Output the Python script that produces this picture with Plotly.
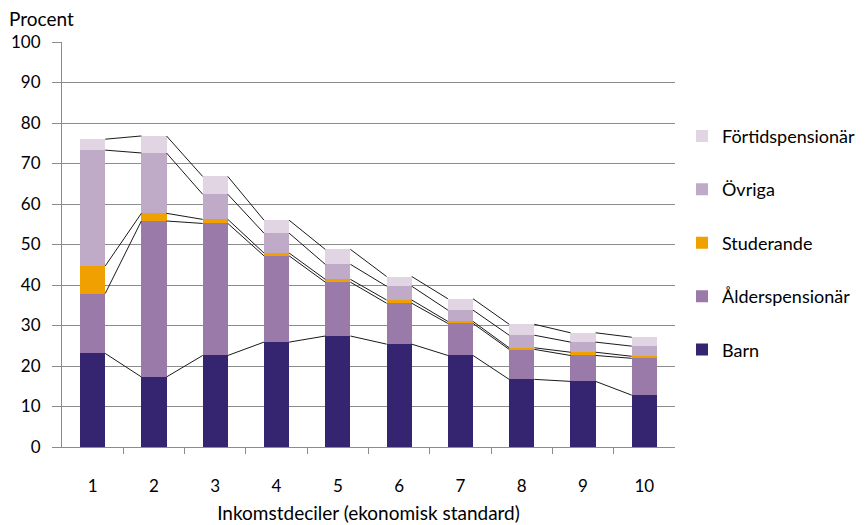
import plotly.graph_objects as go
import numpy as np

deciles = [1, 2, 3, 4, 5, 6, 7, 8, 9, 10]
tick_labels = ["1", "2", "3", "4", "5", "6", "7", "8", "9", "10"]

barn = [23.1, 17.3, 22.6, 25.9, 27.4, 25.4, 22.6, 16.7, 16.2, 12.8]
alderspensionar = [14.8, 38.5, 32.6, 21.3, 13.3, 10.1, 7.9, 7.4, 6.4, 9.1]
studerande = [6.8, 1.9, 1.0, 0.7, 0.7, 0.8, 0.5, 0.4, 0.8, 0.5]
ovriga = [28.6, 14.9, 6.2, 4.9, 3.7, 3.4, 2.8, 3.1, 2.5, 2.5]
fortidspensionar = [2.7, 4.2, 4.4, 3.2, 3.7, 2.4, 2.8, 2.7, 2.3, 2.2]

series_names = ["Barn", "Ålderspensionär", "Studerande", "Övriga", "Förtidspensionär"]
series_values = [barn, alderspensionar, studerande, ovriga, fortidspensionar]
series_colors = ["#35246F", "#9A7AA9", "#F0A000", "#BFAAC8", "#E2D5E3"]

BAR_W = 0.41
FONT = "Lato"
W, H = 857, 517

fig = go.Figure()

n = len(series_names)
for k, (name, vals, col) in enumerate(zip(series_names, series_values, series_colors)):
    fig.add_trace(go.Bar(
        x=deciles, y=vals, name=name, width=BAR_W,
        marker=dict(color=col, line=dict(width=0)),
        legendgroup=name, legendrank=1000 + (n - k),
    ))

# series lines connecting the top of each stacked level between bars
cum = np.cumsum(np.array(series_values), axis=0)
for level in cum:
    xs, ys = [], []
    for i in range(len(deciles) - 1):
        xs += [deciles[i] + BAR_W / 2, deciles[i + 1] - BAR_W / 2, None]
        ys += [level[i], level[i + 1], None]
    fig.add_trace(go.Scatter(
        x=xs, y=ys, mode="lines", showlegend=False, hoverinfo="skip",
        line=dict(color="#1a1a1a", width=1),
    ))

boundaries = [d + 0.5 for d in deciles[:-1]]

fig.update_layout(
    width=W, height=H,
    barmode="stack",
    plot_bgcolor="white", paper_bgcolor="rgba(0,0,0,0)",
    margin=dict(l=54, r=190, t=34, b=78),
    font=dict(family=FONT, size=17, color="#000000"),
    title=dict(text="Procent", x=1 / W, xanchor="left", xref="container",
               y=1 - 11 / H, yanchor="middle", yref="container",
               font=dict(family=FONT, size=19, color="#000000")),
    legend=dict(
        x=674 / W, xref="container", xanchor="left",
        y=0.813, yanchor="top",
        traceorder="grouped", tracegroupgap=27,
        font=dict(family=FONT, size=18, color="#000000"),
        bgcolor="rgba(0,0,0,0)", borderwidth=0,
    ),
)

fig.update_xaxes(
    range=[0.5, 10.5], automargin=False,
    tickmode="array", tickvals=deciles, ticktext=tick_labels,
    ticks="", showgrid=False, zeroline=False,
    showline=True, linecolor="#8c8c8c", linewidth=1,
    ticklabelstandoff=24,
    tickfont=dict(family=FONT, size=17, color="#000000"),
    minor=dict(tickmode="array", tickvals=boundaries, ticks="outside",
               ticklen=6, tickcolor="#8c8c8c", showgrid=False),
    title=dict(text="Inkomstdeciler (ekonomisk standard)", standoff=11,
               font=dict(family=FONT, size=19, color="#000000")),
)

fig.update_yaxes(
    range=[0, 100], tickmode="linear", tick0=0, dtick=10, automargin=False,
    showgrid=True, gridcolor="#8c8c8c", gridwidth=1,
    zeroline=False,
    showline=True, linecolor="#8c8c8c", linewidth=1,
    ticks="outside", ticklen=9, tickcolor="#8c8c8c",
    ticklabelstandoff=8,
    tickfont=dict(family=FONT, size=17, color="#000000"),
)

fig.write_html("out.html")
